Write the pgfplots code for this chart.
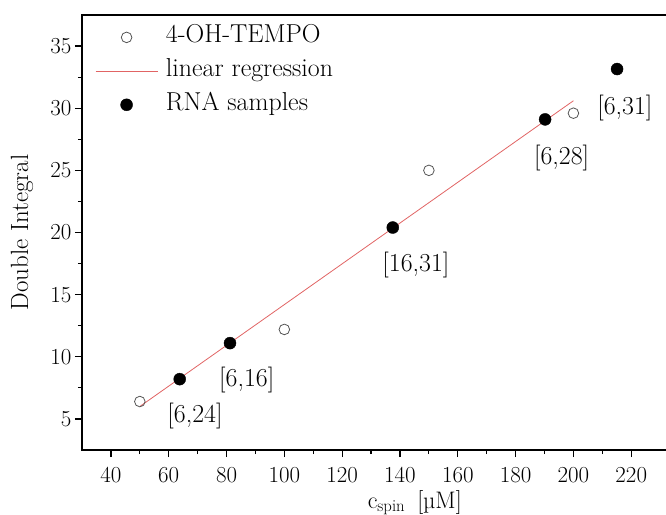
\documentclass[border=0pt]{standalone}
\usepackage{pgfplots}
\pgfplotsset{compat=1.18}
\definecolor{regred}{RGB}{225,100,100}
\definecolor{opengray}{RGB}{85,85,85}
\begin{document}
\begin{tikzpicture}
\path[use as bounding box] (-82bp,-65bp) rectangle (584bp,450bp);
\begin{axis}[
  at={(0,0)}, anchor=south west,
  scale only axis, width=590bp, height=435bp,
  xmin=30, xmax=234.1, ymin=2.5, ymax=37.5,
  xtick={40,60,...,220}, ytick={5,10,...,35},
  minor x tick num=1, minor y tick num=1,
  xtick pos=left, ytick pos=left,
  tick align=outside,
  major tick length=7bp, minor tick length=4bp,
  tick style={black, line width=1.2bp},
  axis line style={line width=1.3bp},
  /pgf/number format/assume math mode=true,
  tick label style={font=\fontsize{23}{27}\selectfont},
  xticklabel style={yshift=-7bp},
  xlabel={c\textsubscript{spin}\hspace{12bp}[µM]},
  xlabel style={font=\fontsize{24}{28}\selectfont, at={(axis description cs:0.564,0)}, anchor=base, yshift=-58bp},
  ylabel={Double Integral},
  ylabel style={font=\fontsize{25}{29}\selectfont, at={(axis description cs:-0.1017,0.5)}, anchor=center},
  legend style={at={(axis description cs:0,1)}, anchor=north west, xshift=13bp, yshift=-11.7bp,
    draw=none, fill=none, inner sep=0pt, row sep=12.7bp, column sep=8bp,
    font=\fontsize{26}{30}\selectfont,
    nodes={inner sep=0bp, text height=16bp, text depth=5bp}},
  legend cell align=left,
  legend image code/.code={\draw[mark repeat=2,mark phase=2,#1] plot coordinates {(0bp,0bp) (31bp,0bp) (62bp,0bp)};},
]
\addplot[only marks, mark=o, mark size=5.3bp, mark options={draw=opengray, line width=0.8bp}]
  coordinates {(50,6.4) (100,12.2) (150,25.0) (200,29.6)};
\addlegendentry{4-OH-TEMPO}
\addplot[regred, line width=0.8bp, mark=none]
  coordinates {(50,6.0) (200,30.6)};
\addlegendentry{linear regression}
\addplot[only marks, mark=*, mark size=6bp, black]
  coordinates {(63.8,8.2) (81.2,11.1) (137.5,20.4) (190.2,29.1) (215.1,33.15)};
\addlegendentry{RNA samples}
\node[font=\fontsize{26}{30}\selectfont] at (axis cs:69.1,5.2) {[6,24]};
\node[font=\fontsize{26}{30}\selectfont] at (axis cs:87.0,8.13) {[6,16]};
\node[font=\fontsize{26}{30}\selectfont] at (axis cs:145.5,17.38) {[16,31]};
\node[font=\fontsize{26}{30}\selectfont] at (axis cs:195.9,25.97) {[6,28]};
\node[font=\fontsize{26}{30}\selectfont] at (axis cs:217.8,30.05) {[6,31]};
\end{axis}
\end{tikzpicture}
\end{document}
